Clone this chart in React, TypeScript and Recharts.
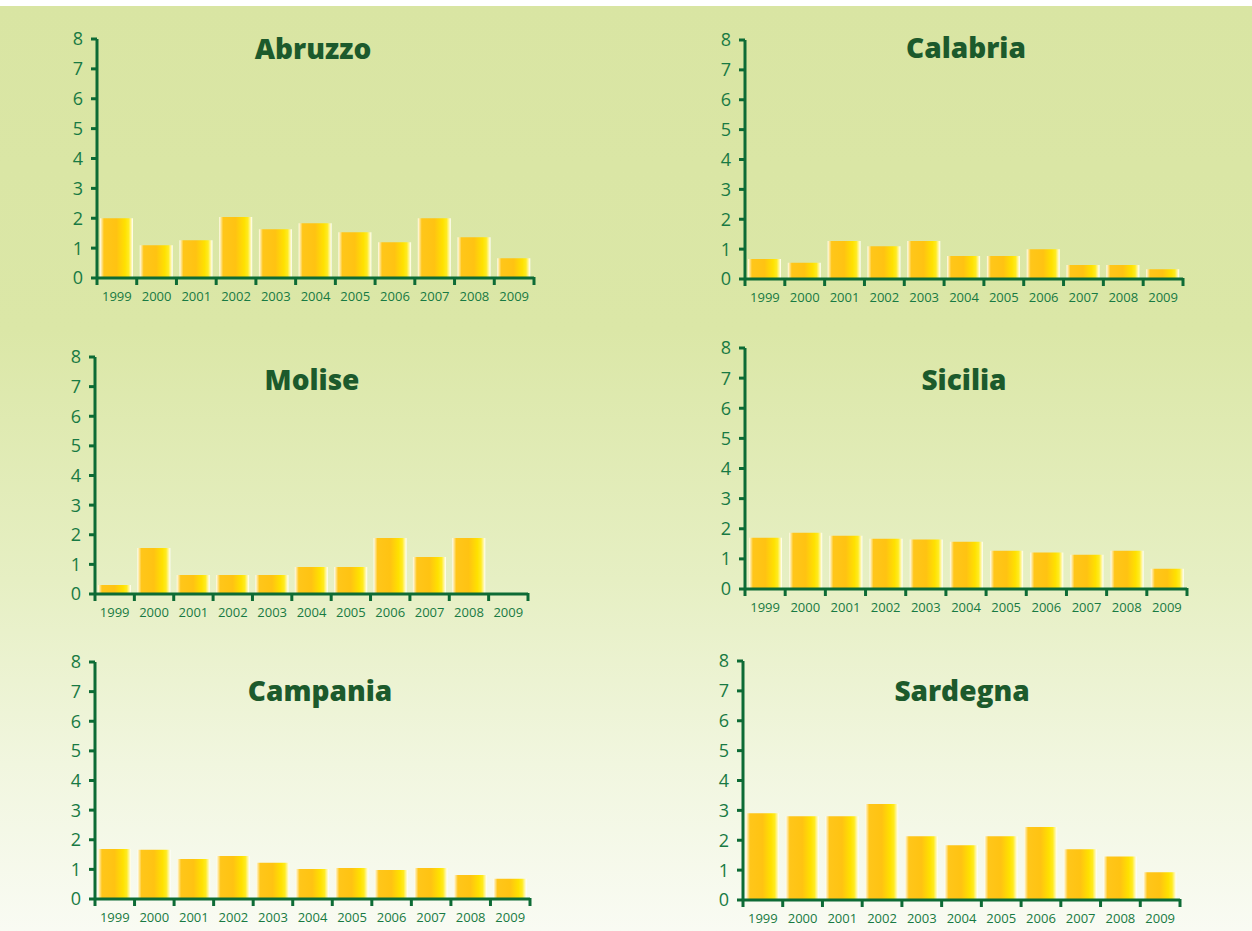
import { Bar, BarChart, XAxis, YAxis } from "recharts";

const YEARS = ["1999", "2000", "2001", "2002", "2003", "2004", "2005", "2006", "2007", "2008", "2009"];
const Y_TICKS = [0, 1, 2, 3, 4, 5, 6, 7, 8];

const ABRUZZO = [2.0, 1.1, 1.26, 2.04, 1.63, 1.83, 1.53, 1.2, 2.0, 1.36, 0.66];
const CALABRIA = [0.67, 0.54, 1.27, 1.1, 1.27, 0.77, 0.77, 1.0, 0.47, 0.47, 0.33];
const MOLISE = [0.3, 1.55, 0.64, 0.64, 0.64, 0.91, 0.91, 1.89, 1.25, 1.89, 0];
const SICILIA = [1.7, 1.87, 1.77, 1.67, 1.64, 1.57, 1.27, 1.21, 1.14, 1.27, 0.67];
const CAMPANIA = [1.69, 1.66, 1.35, 1.45, 1.22, 1.01, 1.05, 0.98, 1.05, 0.81, 0.68];
const SARDEGNA = [2.9, 2.8, 2.8, 3.21, 2.13, 1.83, 2.13, 2.44, 1.7, 1.46, 0.93];

const AXIS = "#0d6b35";
const LABEL = "#187a43";
const TITLE = "#1c5a2c";
const FONT = "'Open Sans', sans-serif";

// plot-area placement of each panel (left, top, width, height) and title centre
const PANELS = [
  { name: "Abruzzo", values: ABRUZZO, px: 97, py: 39, pw: 437, ph: 239, tx: 313, ty: 48 },
  { name: "Calabria", values: CALABRIA, px: 745, py: 40, pw: 438, ph: 239, tx: 966, ty: 47 },
  { name: "Molise", values: MOLISE, px: 95, py: 357, pw: 433, ph: 237, tx: 312, ty: 379 },
  { name: "Sicilia", values: SICILIA, px: 745, py: 348, pw: 442, ph: 241, tx: 964, ty: 379 },
  { name: "Campania", values: CAMPANIA, px: 95, py: 662, pw: 435, ph: 237, tx: 320, ty: 690 },
  { name: "Sardegna", values: SARDEGNA, px: 743, py: 661, pw: 437, ph: 239, tx: 962, ty: 690 },
];

const LEFT = 60;
const TOP = 20;
const RIGHT = 10;
const BOTTOM = 40;

function YearTick(props: any) {
  const { x, y, payload, index, band } = props;
  const left = x - band / 2;
  return (
    <g>
      <line x1={left} y1={y - 1} x2={left} y2={y + 7} stroke={AXIS} strokeWidth={3} />
      {index === YEARS.length - 1 && (
        <line x1={x + band / 2} y1={y - 1} x2={x + band / 2} y2={y + 7} stroke={AXIS} strokeWidth={3} />
      )}
      <text x={x} y={y + 23} textAnchor="middle" fill={LABEL} fontSize={13} fontFamily={FONT}>
        {payload.value}
      </text>
    </g>
  );
}

function Panel({ panel, idx }: { panel: (typeof PANELS)[number]; idx: number }) {
  const data = YEARS.map((year, i) => ({ year, value: panel.values[i] }));
  const band = panel.pw / YEARS.length;
  const gid = `barGrad${idx}`;
  return (
    <>
      <div
        style={{
          position: "absolute",
          left: panel.px - LEFT,
          top: panel.py - TOP,
        }}
      >
        <BarChart
          width={LEFT + panel.pw + RIGHT}
          height={TOP + panel.ph + BOTTOM}
          data={data}
          margin={{ top: TOP, right: RIGHT, left: 0, bottom: 0 }}
          barSize={33}
        >
          <defs>
            <linearGradient id={gid} x1="0" y1="0" x2="1" y2="0">
              <stop offset="0%" stopColor="#fffdf0" />
              <stop offset="12%" stopColor="#ffc61a" />
              <stop offset="50%" stopColor="#ffc312" />
              <stop offset="76%" stopColor="#ffe100" />
              <stop offset="87%" stopColor="#ffeb20" />
              <stop offset="100%" stopColor="#ffffff" />
            </linearGradient>
          </defs>
          <XAxis
            dataKey="year"
            height={BOTTOM}
            interval={0}
            tickSize={0}
            tickMargin={0}
            tickLine={false}
            axisLine={{ stroke: AXIS, strokeWidth: 3 }}
            tick={(p: any) => <YearTick {...p} band={band} />}
          />
          <YAxis
            width={LEFT}
            domain={[0, 8]}
            ticks={Y_TICKS}
            interval={0}
            tickSize={6}
            tickMargin={8}
            axisLine={{ stroke: AXIS, strokeWidth: 3 }}
            tickLine={{ stroke: AXIS, strokeWidth: 3 }}
            tick={{ fill: LABEL, fontSize: 18, fontFamily: FONT }}
          />
          <Bar dataKey="value" fill={`url(#${gid})`} isAnimationActive={false} />
        </BarChart>
      </div>
      <div
        style={{
          position: "absolute",
          left: panel.tx - 150,
          width: 300,
          top: panel.ty - 19,
          lineHeight: "38px",
          textAlign: "center",
          fontFamily: FONT,
          fontWeight: 800,
          fontSize: 28,
          color: TITLE,
        }}
      >
        {panel.name}
      </div>
    </>
  );
}

export default function App() {
  return (
    <div
      style={{
        position: "absolute",
        left: 0,
        top: 0,
        width: 1252,
        height: 931,
        background: "#ffffff",
      }}
    >
      <div
        style={{
          position: "absolute",
          left: 0,
          top: 6,
          width: 1252,
          height: 925,
          background:
            "linear-gradient(to bottom, #d9e5a3 0%, #dbe7a7 35%, #e6efc3 62%, #f1f6df 82%, #f9fbf3 100%)",
        }}
      />
      {PANELS.map((p, i) => (
        <Panel key={p.name} panel={p} idx={i} />
      ))}
    </div>
  );
}
